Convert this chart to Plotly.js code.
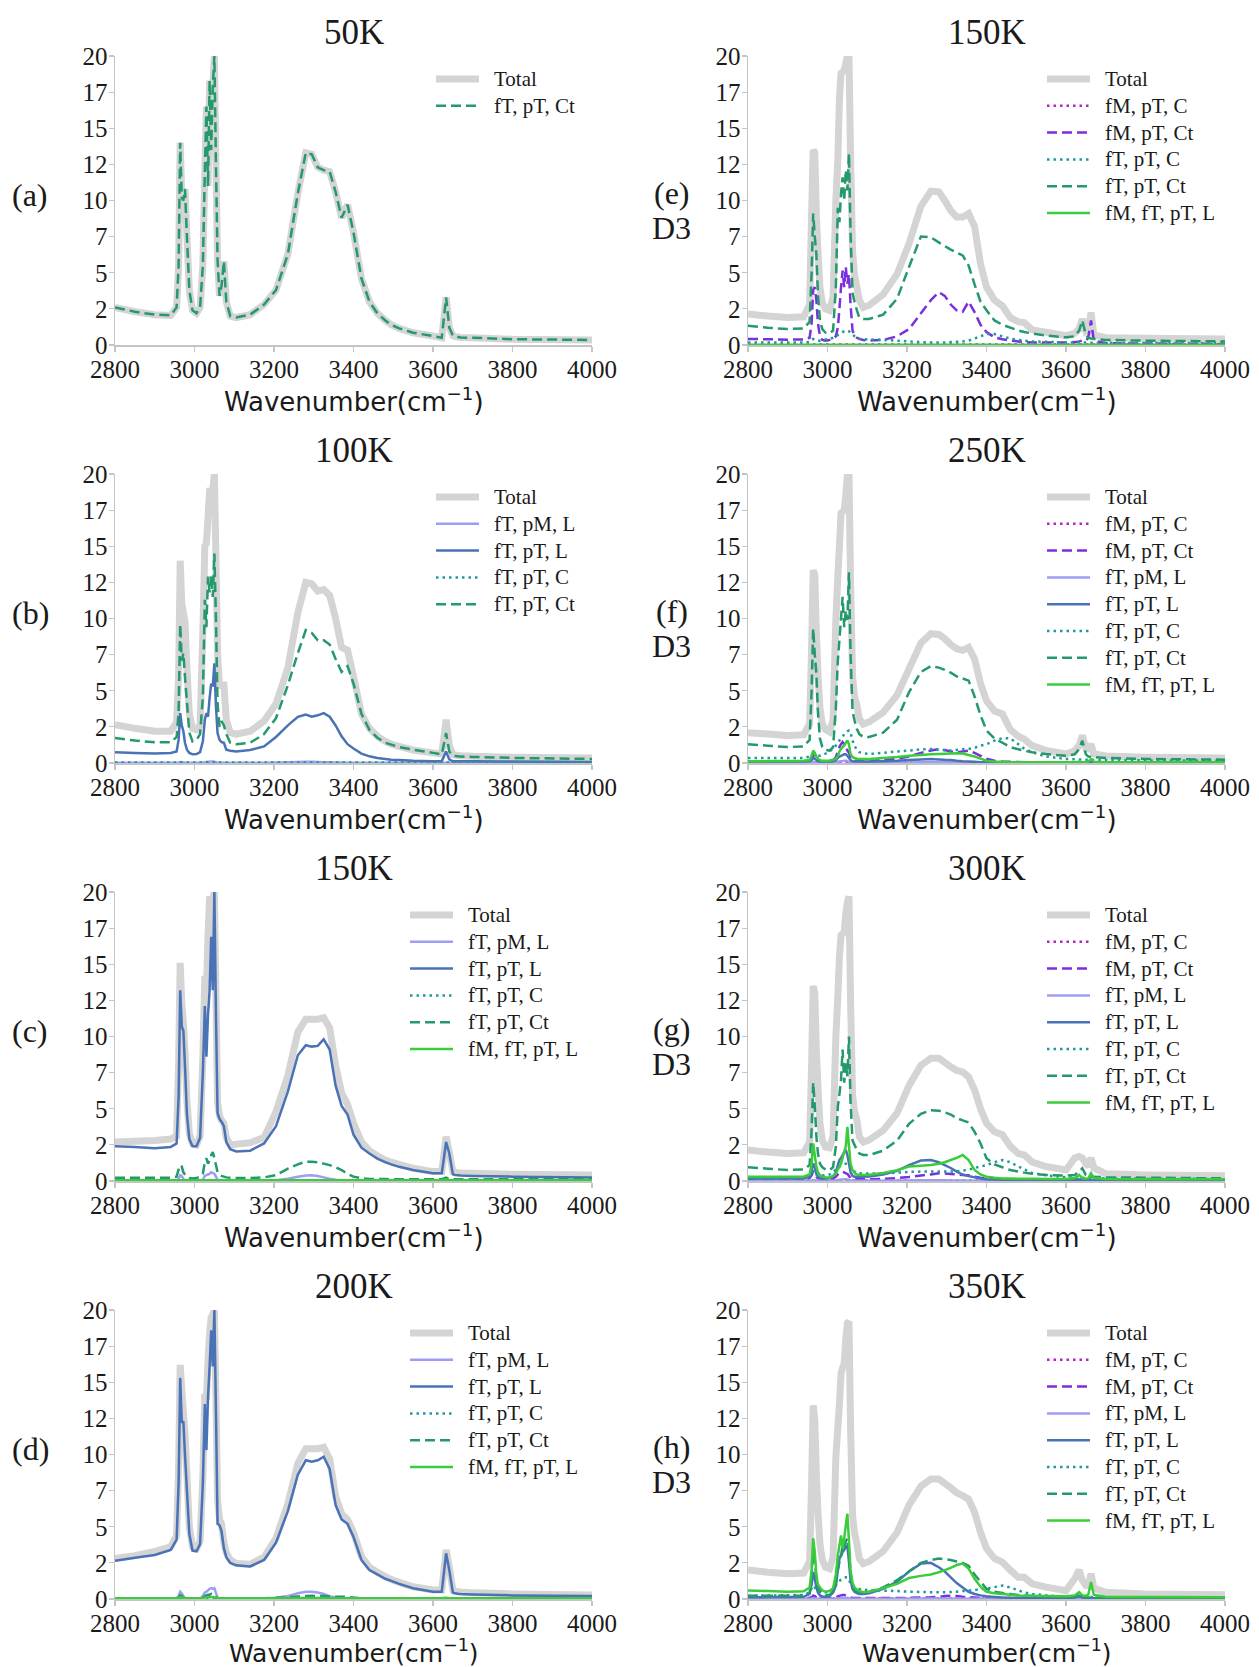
<!DOCTYPE html>
<html>
<head>
<meta charset="utf-8">
<script src="https://cdn.plot.ly/plotly-3.0.1.min.js"></script>
<style>
  html, body { margin: 0; padding: 0; background: #ffffff; }
  #chart { width: 1259px; height: 1667px; }
</style>
</head>
<body>
<div id="chart"></div>
<script>
// Shared wavenumber grid (cm^-1), denser around the C-H and O-H bands
const wavenumber = [
  2800, 2850, 2900, 2940, 2955, 2960, 2964, 2968, 2972, 2976,
  2981, 2987, 2995, 3005, 3014, 3021, 3026, 3030, 3034, 3038,
  3042, 3046, 3050, 3054, 3058, 3063, 3068, 3074, 3080, 3090,
  3105, 3140, 3175, 3205, 3235, 3260, 3280, 3295, 3310, 3325,
  3340, 3355, 3370, 3385, 3400, 3420, 3440, 3460, 3480, 3495,
  3515, 3550, 3600, 3622, 3633, 3641, 3650, 3656, 3663, 3670,
  3700, 3800, 4000
];

const yTickVals = [0, 2.5, 5, 7.5, 10, 12.5, 15, 17.5, 20];
const yTickText = ['0', '2', '5', '7', '10', '12', '15', '17', '20'];
const xTickVals = [2800, 3000, 3200, 3400, 3600, 3800, 4000];

// ---------- (a) 50K ----------
const k50_total = [
  2.6, 2.3, 2.1, 2.05, 2.6, 5.5, 14.0, 10.2, 10.0, 10.8,
  7.5, 3.8, 2.4, 2.2, 2.6, 5.5, 12.0, 16.5, 11.0, 18.3,
  13.5, 17.9, 20.0, 12.4, 5.9, 3.4, 4.1, 5.8, 3.0, 2.0,
  1.9, 2.1, 2.8, 3.8, 6.3, 10.5, 13.3, 13.2, 12.3, 12.1,
  12.0, 10.6, 8.8, 9.7, 7.8, 4.6, 3.0, 2.2, 1.7, 1.4,
  1.15, 0.85, 0.62, 0.5, 3.3, 1.2, 0.65, 0.58, 0.55, 0.52,
  0.5, 0.4, 0.35
];
const k50_fT_pT_Ct = [
  2.6, 2.3, 2.1, 2.05, 2.6, 5.5, 14.0, 10.2, 10.0, 10.8,
  7.5, 3.8, 2.4, 2.2, 2.6, 5.5, 12.0, 16.5, 11.0, 18.3,
  13.5, 17.9, 20.0, 12.4, 5.9, 3.4, 4.1, 5.8, 3.0, 2.0,
  1.9, 2.1, 2.8, 3.8, 6.3, 10.5, 13.3, 13.2, 12.3, 12.1,
  12.0, 10.6, 8.8, 9.7, 7.8, 4.6, 3.0, 2.2, 1.7, 1.4,
  1.15, 0.85, 0.62, 0.5, 3.3, 1.2, 0.65, 0.58, 0.55, 0.52,
  0.5, 0.4, 0.35
];

// ---------- (b) 100K ----------
const k100_total = [
  2.65, 2.4, 2.2, 2.2, 2.8, 6.0, 14.0, 11.0, 10.4, 9.8,
  6.5, 3.4, 2.4, 2.3, 2.6, 9.0, 15.0, 15.2, 17.0, 18.8,
  18.8, 18.9, 20.0, 14.0, 7.5, 5.2, 5.4, 5.4, 3.0, 2.1,
  2.0, 2.2, 2.9, 4.1, 6.6, 10.4, 12.5, 12.4, 11.9, 12.0,
  11.6, 10.0, 8.0, 7.8, 6.0, 3.4, 2.4, 1.85, 1.5, 1.3,
  1.15, 0.9, 0.7, 0.62, 3.0, 1.2, 0.58, 0.55, 0.52, 0.5,
  0.46, 0.4, 0.35
];
const k100_fT_pM_L = [
  0.02, 0.02, 0.02, 0.02, 0.02, 0.04, 0.06, 0.05, 0.04, 0.03,
  0.02, 0.02, 0.02, 0.02, 0.02, 0.04, 0.06, 0.07, 0.08, 0.09,
  0.1, 0.1, 0.09, 0.06, 0.03, 0.02, 0.02, 0.02, 0.02, 0.02,
  0.02, 0.02, 0.02, 0.03, 0.05, 0.07, 0.08, 0.08, 0.07, 0.06,
  0.05, 0.04, 0.03, 0.02, 0.02, 0.02, 0.02, 0.02, 0.02, 0.02,
  0.02, 0.02, 0.02, 0.02, 0.02, 0.02, 0.02, 0.02, 0.02, 0.02,
  0.02, 0.02, 0.02
];
const k100_fT_pT_L = [
  0.74, 0.7, 0.65, 0.7, 0.8, 1.6, 3.45, 2.6, 2.2, 1.4,
  0.92, 0.7, 0.6, 0.62, 0.75, 1.5, 3.0, 3.45, 3.2, 4.5,
  5.5, 5.3, 6.9, 3.9, 2.07, 1.6, 1.45, 1.4, 0.92, 0.85,
  0.8, 0.9, 1.15, 1.8, 2.6, 3.2, 3.35, 3.2, 3.3, 3.45,
  3.2, 2.6, 1.85, 1.3, 1.0, 0.65, 0.46, 0.35, 0.28, 0.23,
  0.2, 0.15, 0.12, 0.12, 0.8, 0.25, 0.12, 0.12, 0.12, 0.12,
  0.12, 0.1, 0.07
];
const k100_fT_pT_C = [
  0.04, 0.04, 0.04, 0.04, 0.04, 0.04, 0.05, 0.05, 0.04, 0.04,
  0.04, 0.04, 0.04, 0.04, 0.04, 0.04, 0.05, 0.05, 0.05, 0.05,
  0.05, 0.05, 0.05, 0.05, 0.04, 0.04, 0.04, 0.04, 0.04, 0.04,
  0.04, 0.04, 0.04, 0.04, 0.04, 0.04, 0.04, 0.04, 0.04, 0.04,
  0.04, 0.04, 0.04, 0.04, 0.04, 0.04, 0.04, 0.04, 0.04, 0.04,
  0.04, 0.04, 0.04, 0.04, 0.04, 0.04, 0.04, 0.04, 0.04, 0.04,
  0.04, 0.04, 0.04
];
const k100_fT_pT_Ct = [
  1.73, 1.55, 1.43, 1.43, 1.8, 3.5, 9.6, 7.1, 7.6, 6.0,
  4.2, 2.1, 1.5, 1.6, 2.0, 4.5, 11.3, 9.4, 12.9, 11.8,
  13.0, 11.5, 14.5, 9.9, 4.1, 2.5, 2.9, 2.6, 2.0, 1.4,
  1.3, 1.4, 2.0, 3.1, 5.4, 7.6, 9.2, 9.0, 8.5, 8.5,
  8.2, 7.2, 6.3, 6.7, 5.5, 3.4, 2.3, 1.75, 1.4, 1.27,
  1.1, 0.92, 0.7, 0.6, 2.07, 0.8, 0.5, 0.48, 0.46, 0.45,
  0.42, 0.35, 0.28
];

// ---------- (c) 150K ----------
const k150_total = [
  2.7, 2.75, 2.8, 2.9, 3.1, 8.15, 15.1, 12.3, 11.0, 9.0,
  5.5, 3.3, 2.6, 2.5, 3.1, 8.5, 14.2, 13.2, 17.0, 19.7,
  19.2, 19.5, 20.0, 12.8, 5.4, 4.5, 4.2, 4.0, 3.0, 2.5,
  2.55, 2.65, 3.0, 4.8, 7.3, 10.3, 11.2, 11.2, 11.2, 11.3,
  10.6, 8.0, 6.1, 5.3, 4.0, 2.7, 2.1, 1.75, 1.45, 1.3,
  1.15, 0.88, 0.65, 0.65, 3.07, 2.0, 0.65, 0.6, 0.57, 0.55,
  0.53, 0.46, 0.42
];
const k150_fT_pM_L = [
  0.02, 0.02, 0.02, 0.02, 0.02, 0.15, 0.4, 0.35, 0.15, 0.05,
  0.02, 0.02, 0.02, 0.02, 0.02, 0.1, 0.35, 0.4, 0.45, 0.5,
  0.6, 0.55, 0.5, 0.3, 0.08, 0.02, 0.02, 0.02, 0.02, 0.02,
  0.02, 0.02, 0.02, 0.05, 0.15, 0.3, 0.38, 0.4, 0.35, 0.25,
  0.15, 0.08, 0.04, 0.02, 0.02, 0.02, 0.02, 0.02, 0.02, 0.02,
  0.02, 0.02, 0.02, 0.02, 0.02, 0.02, 0.02, 0.02, 0.02, 0.02,
  0.02, 0.02, 0.02
];
const k150_fT_pT_L = [
  2.4, 2.35, 2.26, 2.35, 2.6, 5.85, 13.2, 10.7, 10.4, 8.0,
  4.6, 2.9, 2.4, 2.4, 3.0, 7.5, 12.1, 8.6, 11.5, 13.2,
  16.9, 13.2, 20.0, 11.4, 4.7, 4.3, 4.1, 3.8, 2.7, 2.2,
  2.05, 2.1, 2.6, 3.8, 6.2, 8.7, 9.4, 9.3, 9.35, 9.8,
  9.1, 6.6, 5.2, 4.6, 3.2, 2.3, 1.9, 1.55, 1.3, 1.15,
  0.98, 0.76, 0.53, 0.53, 2.7, 1.9, 0.46, 0.42, 0.4, 0.38,
  0.35, 0.3, 0.25
];
const k150_fT_pT_C = [
  0.03, 0.03, 0.03, 0.03, 0.03, 0.03, 0.03, 0.03, 0.03, 0.03,
  0.03, 0.03, 0.03, 0.03, 0.03, 0.03, 0.03, 0.03, 0.03, 0.03,
  0.03, 0.03, 0.03, 0.03, 0.03, 0.03, 0.03, 0.03, 0.03, 0.03,
  0.03, 0.03, 0.03, 0.03, 0.03, 0.03, 0.03, 0.03, 0.03, 0.03,
  0.03, 0.03, 0.03, 0.03, 0.03, 0.03, 0.03, 0.03, 0.03, 0.03,
  0.03, 0.03, 0.03, 0.03, 0.03, 0.03, 0.03, 0.03, 0.03, 0.03,
  0.03, 0.03, 0.03
];
const k150_fT_pT_Ct = [
  0.23, 0.23, 0.23, 0.23, 0.3, 0.8, 1.1, 1.0, 0.6, 0.45,
  0.3, 0.2, 0.18, 0.2, 0.3, 0.5, 1.3, 1.57, 1.2, 1.45,
  1.8, 2.0, 1.6, 1.1, 0.6, 0.42, 0.35, 0.3, 0.25, 0.22,
  0.2, 0.2, 0.25, 0.4, 0.85, 1.15, 1.34, 1.33, 1.3, 1.2,
  1.1, 0.95, 0.76, 0.5, 0.3, 0.2, 0.14, 0.13, 0.13, 0.12,
  0.12, 0.12, 0.12, 0.12, 0.23, 0.15, 0.12, 0.12, 0.12, 0.12,
  0.12, 0.12, 0.12
];
const k150_fM_fT_pT_L = [
  0.05, 0.05, 0.05, 0.05, 0.05, 0.05, 0.06, 0.06, 0.05, 0.05,
  0.05, 0.05, 0.05, 0.05, 0.05, 0.05, 0.06, 0.06, 0.06, 0.06,
  0.06, 0.06, 0.06, 0.06, 0.05, 0.05, 0.05, 0.05, 0.05, 0.05,
  0.05, 0.05, 0.05, 0.05, 0.05, 0.05, 0.05, 0.05, 0.05, 0.05,
  0.05, 0.05, 0.05, 0.05, 0.05, 0.05, 0.05, 0.05, 0.05, 0.05,
  0.05, 0.05, 0.05, 0.05, 0.1, 0.06, 0.05, 0.05, 0.05, 0.05,
  0.05, 0.05, 0.05
];

// ---------- (d) 200K ----------
const k200_total = [
  2.8, 3.0, 3.3, 3.6, 4.4, 9.0, 16.2, 14.5, 13.0, 11.5,
  8.5, 5.0, 3.6, 3.5, 4.0, 8.5, 14.2, 13.8, 16.5, 18.4,
  19.5, 19.7, 20.0, 13.8, 6.85, 5.5, 5.2, 3.9, 3.2, 2.7,
  2.45, 2.4, 2.9, 4.2, 6.6, 9.4, 10.4, 10.4, 10.4, 10.5,
  9.7, 7.1, 5.9, 5.5, 4.6, 2.93, 2.2, 1.85, 1.55, 1.35,
  1.15, 0.85, 0.62, 0.62, 3.4, 2.2, 0.6, 0.55, 0.5, 0.48,
  0.44, 0.35, 0.28
];
const k200_fT_pM_L = [
  0.02, 0.02, 0.02, 0.02, 0.02, 0.2, 0.5, 0.4, 0.2, 0.08,
  0.03, 0.03, 0.03, 0.03, 0.03, 0.2, 0.45, 0.5, 0.6, 0.7,
  0.75, 0.7, 0.75, 0.4, 0.1, 0.03, 0.03, 0.03, 0.03, 0.03,
  0.03, 0.03, 0.03, 0.08, 0.2, 0.4, 0.5, 0.5, 0.45, 0.35,
  0.2, 0.1, 0.06, 0.03, 0.03, 0.03, 0.03, 0.03, 0.03, 0.03,
  0.03, 0.03, 0.03, 0.03, 0.05, 0.03, 0.03, 0.03, 0.03, 0.03,
  0.03, 0.03, 0.03
];
const k200_fT_pT_L = [
  2.65, 2.85, 3.05, 3.4, 4.1, 8.0, 15.3, 12.2, 12.3, 10.0,
  7.5, 4.5, 3.35, 3.3, 3.8, 8.0, 13.5, 10.3, 14.0, 16.1,
  18.6, 16.1, 20.0, 12.85, 5.2, 5.1, 4.7, 3.5, 2.9, 2.5,
  2.33, 2.25, 2.7, 3.9, 6.1, 8.6, 9.6, 9.5, 9.6, 9.85,
  9.0, 6.5, 5.5, 5.2, 4.3, 2.7, 2.0, 1.7, 1.4, 1.25,
  1.05, 0.74, 0.5, 0.5, 3.16, 2.0, 0.44, 0.4, 0.37, 0.35,
  0.32, 0.25, 0.2
];
const k200_fT_pT_C = [
  0.03, 0.03, 0.03, 0.03, 0.03, 0.03, 0.03, 0.03, 0.03, 0.03,
  0.03, 0.03, 0.03, 0.03, 0.03, 0.03, 0.03, 0.03, 0.03, 0.03,
  0.03, 0.03, 0.03, 0.03, 0.03, 0.03, 0.03, 0.03, 0.03, 0.03,
  0.03, 0.03, 0.03, 0.03, 0.03, 0.03, 0.03, 0.03, 0.03, 0.03,
  0.03, 0.03, 0.03, 0.03, 0.03, 0.03, 0.03, 0.03, 0.03, 0.03,
  0.03, 0.03, 0.03, 0.03, 0.03, 0.03, 0.03, 0.03, 0.03, 0.03,
  0.03, 0.03, 0.03
];
const k200_fT_pT_Ct = [
  0.05, 0.05, 0.05, 0.05, 0.05, 0.1, 0.25, 0.2, 0.1, 0.05,
  0.05, 0.05, 0.05, 0.05, 0.05, 0.1, 0.2, 0.25, 0.3, 0.3,
  0.35, 0.3, 0.3, 0.15, 0.05, 0.05, 0.05, 0.05, 0.05, 0.05,
  0.05, 0.05, 0.05, 0.08, 0.12, 0.18, 0.2, 0.22, 0.2, 0.2,
  0.18, 0.15, 0.15, 0.15, 0.1, 0.05, 0.05, 0.05, 0.05, 0.05,
  0.05, 0.05, 0.05, 0.05, 0.05, 0.05, 0.05, 0.05, 0.05, 0.05,
  0.05, 0.05, 0.05
];
const k200_fM_fT_pT_L = [
  0.06, 0.06, 0.06, 0.06, 0.06, 0.08, 0.12, 0.1, 0.08, 0.06,
  0.06, 0.06, 0.06, 0.06, 0.06, 0.08, 0.1, 0.12, 0.12, 0.12,
  0.14, 0.14, 0.12, 0.08, 0.06, 0.06, 0.06, 0.06, 0.06, 0.06,
  0.06, 0.06, 0.06, 0.06, 0.06, 0.07, 0.07, 0.07, 0.07, 0.07,
  0.06, 0.06, 0.06, 0.06, 0.06, 0.06, 0.06, 0.06, 0.06, 0.06,
  0.06, 0.06, 0.06, 0.06, 0.08, 0.06, 0.06, 0.06, 0.06, 0.06,
  0.06, 0.06, 0.06
];

// ---------- (e) 150K, D3 ----------
const d3k150_total = [
  2.15, 2.0, 1.9, 1.95, 2.8, 9.0, 13.5, 13.3, 9.0, 6.5,
  4.0, 2.9, 2.5, 2.4, 3.3, 10.0, 12.8, 17.0, 18.8, 18.9,
  19.0, 19.5, 20.0, 20.0, 13.0, 6.5, 4.8, 4.0, 3.1, 2.6,
  2.75, 3.5, 4.9, 7.0, 9.6, 10.65, 10.6, 10.0, 9.3, 8.85,
  8.85, 9.1, 8.2, 5.6, 4.0, 3.1, 2.7, 1.9, 1.6, 1.55,
  1.05, 0.88, 0.65, 0.8, 1.1, 1.8, 0.95, 1.05, 2.25, 0.7,
  0.5, 0.46, 0.42
];
const d3k150_fM_pT_C = [
  0.03, 0.03, 0.03, 0.03, 0.03, 0.03, 0.03, 0.03, 0.03, 0.03,
  0.03, 0.03, 0.03, 0.03, 0.03, 0.03, 0.03, 0.03, 0.03, 0.03,
  0.03, 0.03, 0.03, 0.03, 0.03, 0.03, 0.03, 0.03, 0.03, 0.03,
  0.03, 0.03, 0.03, 0.03, 0.03, 0.03, 0.03, 0.03, 0.03, 0.03,
  0.03, 0.03, 0.03, 0.03, 0.03, 0.03, 0.03, 0.03, 0.03, 0.03,
  0.03, 0.03, 0.03, 0.03, 0.03, 0.03, 0.03, 0.03, 0.03, 0.03,
  0.03, 0.03, 0.03
];
const d3k150_fM_pT_Ct = [
  0.42, 0.4, 0.37, 0.38, 0.5, 1.5, 3.8, 4.0, 3.1, 1.5,
  0.6, 0.35, 0.3, 0.35, 0.45, 0.6, 1.2, 2.5, 4.0, 5.15,
  4.0, 5.4, 4.25, 4.9, 2.8, 1.0, 0.65, 0.5, 0.42, 0.35,
  0.3, 0.35, 0.6, 1.1, 2.2, 3.1, 3.65, 3.4, 2.8, 2.4,
  2.3, 3.0, 2.27, 1.4, 0.9, 0.53, 0.4, 0.3, 0.25, 0.2,
  0.18, 0.18, 0.18, 0.2, 0.25, 0.3, 0.3, 0.5, 1.7, 0.3,
  0.12, 0.1, 0.07
];
const d3k150_fT_pT_C = [
  0.18, 0.18, 0.18, 0.18, 0.22, 0.35, 0.42, 0.4, 0.35, 0.3,
  0.3, 0.32, 0.38, 0.42, 0.5, 0.6, 0.7, 0.76, 0.85, 0.9,
  0.95, 1.0, 1.0, 0.95, 0.85, 0.76, 0.6, 0.5, 0.42, 0.4,
  0.38, 0.35, 0.3, 0.25, 0.2, 0.18, 0.18, 0.18, 0.2, 0.22,
  0.25, 0.3, 0.45, 0.6, 0.76, 0.76, 0.6, 0.45, 0.35, 0.3,
  0.25, 0.22, 0.18, 0.18, 0.18, 0.17, 0.17, 0.16, 0.16, 0.16,
  0.15, 0.14, 0.12
];
const d3k150_fT_pT_Ct = [
  1.34, 1.2, 1.1, 1.15, 1.6, 5.0, 9.1, 7.5, 6.3, 3.5,
  1.7, 1.1, 0.85, 0.8, 1.0, 4.0, 9.5, 8.5, 10.5, 11.6,
  10.0, 12.1, 10.7, 13.25, 7.7, 3.6, 3.0, 2.4, 1.9, 1.8,
  1.8, 2.1, 3.2, 5.4, 7.5, 7.45, 7.1, 6.85, 6.6, 6.4,
  6.2, 5.5, 4.2, 3.0, 2.4, 1.7, 1.4, 1.2, 1.0, 0.9,
  0.8, 0.65, 0.53, 0.6, 1.0, 1.7, 0.7, 0.5, 0.45, 0.42,
  0.35, 0.3, 0.25
];
const d3k150_fM_fT_pT_L = [
  0.02, 0.02, 0.02, 0.02, 0.02, 0.02, 0.02, 0.02, 0.02, 0.02,
  0.02, 0.02, 0.02, 0.02, 0.02, 0.02, 0.02, 0.02, 0.02, 0.02,
  0.02, 0.02, 0.02, 0.02, 0.02, 0.02, 0.02, 0.02, 0.02, 0.02,
  0.02, 0.02, 0.02, 0.02, 0.02, 0.02, 0.02, 0.02, 0.02, 0.02,
  0.02, 0.02, 0.02, 0.02, 0.02, 0.02, 0.02, 0.02, 0.02, 0.02,
  0.02, 0.02, 0.02, 0.02, 0.02, 0.02, 0.02, 0.02, 0.02, 0.02,
  0.02, 0.02, 0.02
];

// ---------- (f) 250K, D3 ----------
const d3k250_total = [
  2.1, 2.0, 1.9, 1.95, 2.7, 8.0, 13.35, 13.0, 9.0, 6.2,
  3.8, 2.7, 2.3, 2.15, 3.0, 9.9, 12.9, 15.0, 17.3, 17.4,
  17.5, 18.5, 20.0, 20.0, 12.5, 6.0, 4.6, 4.0, 3.05, 2.7,
  2.85, 3.5, 4.7, 6.5, 8.3, 8.95, 8.9, 8.6, 8.2, 7.9,
  7.8, 8.0, 7.2, 5.5, 4.3, 3.6, 3.4, 2.3, 1.85, 1.65,
  1.2, 0.86, 0.62, 0.85, 1.2, 1.9, 1.0, 0.97, 1.3, 0.62,
  0.48, 0.4, 0.35
];
const d3k250_fM_pT_C = [
  0.03, 0.03, 0.03, 0.03, 0.03, 0.03, 0.03, 0.03, 0.03, 0.03,
  0.03, 0.03, 0.03, 0.03, 0.03, 0.03, 0.03, 0.03, 0.03, 0.03,
  0.03, 0.03, 0.03, 0.03, 0.03, 0.03, 0.03, 0.03, 0.03, 0.03,
  0.03, 0.03, 0.03, 0.03, 0.03, 0.03, 0.03, 0.03, 0.03, 0.03,
  0.03, 0.03, 0.03, 0.03, 0.03, 0.03, 0.03, 0.03, 0.03, 0.03,
  0.03, 0.03, 0.03, 0.03, 0.03, 0.03, 0.03, 0.03, 0.03, 0.03,
  0.03, 0.03, 0.03
];
const d3k250_fM_pT_Ct = [
  0.05, 0.05, 0.05, 0.06, 0.1, 0.3, 0.5, 0.45, 0.3, 0.15,
  0.1, 0.08, 0.08, 0.1, 0.15, 0.4, 0.8, 1.1, 1.3, 1.45,
  1.3, 1.1, 0.86, 0.7, 0.4, 0.2, 0.16, 0.14, 0.12, 0.12,
  0.14, 0.2, 0.3, 0.45, 0.7, 0.86, 0.95, 0.9, 0.8, 0.74,
  0.8, 0.86, 0.7, 0.5, 0.3, 0.15, 0.1, 0.08, 0.07, 0.06,
  0.06, 0.05, 0.05, 0.05, 0.05, 0.05, 0.05, 0.08, 0.15, 0.05,
  0.05, 0.05, 0.05
];
const d3k250_fT_pM_L = [
  0.02, 0.02, 0.02, 0.02, 0.02, 0.04, 0.08, 0.06, 0.04, 0.03,
  0.02, 0.02, 0.02, 0.02, 0.02, 0.04, 0.08, 0.1, 0.12, 0.13,
  0.15, 0.15, 0.12, 0.08, 0.04, 0.02, 0.02, 0.02, 0.02, 0.02,
  0.02, 0.02, 0.03, 0.04, 0.05, 0.06, 0.06, 0.06, 0.05, 0.04,
  0.03, 0.02, 0.02, 0.02, 0.02, 0.02, 0.02, 0.02, 0.02, 0.02,
  0.02, 0.02, 0.02, 0.02, 0.02, 0.02, 0.02, 0.02, 0.02, 0.02,
  0.02, 0.02, 0.02
];
const d3k250_fT_pT_L = [
  0.1, 0.1, 0.1, 0.1, 0.12, 0.2, 0.35, 0.3, 0.2, 0.12,
  0.1, 0.1, 0.1, 0.1, 0.12, 0.2, 0.35, 0.45, 0.5, 0.55,
  0.6, 0.6, 0.5, 0.35, 0.2, 0.12, 0.1, 0.1, 0.1, 0.1,
  0.1, 0.12, 0.15, 0.2, 0.25, 0.27, 0.25, 0.22, 0.2, 0.15,
  0.12, 0.1, 0.08, 0.06, 0.06, 0.06, 0.06, 0.06, 0.06, 0.06,
  0.06, 0.06, 0.06, 0.06, 0.06, 0.06, 0.06, 0.06, 0.06, 0.06,
  0.06, 0.06, 0.06
];
const d3k250_fT_pT_C = [
  0.35, 0.35, 0.35, 0.35, 0.45, 0.55, 0.62, 0.6, 0.55, 0.5,
  0.5, 0.55, 0.65, 0.8, 1.0, 1.2, 1.4, 1.55, 1.7, 1.8,
  2.0, 2.1, 2.2, 2.25, 2.1, 1.55, 1.2, 0.9, 0.75, 0.68,
  0.62, 0.7, 0.8, 0.86, 0.95, 0.97, 0.92, 0.88, 0.86, 0.9,
  0.95, 0.97, 1.05, 1.2, 1.3, 1.55, 1.72, 1.7, 1.3, 1.0,
  0.74, 0.45, 0.28, 0.26, 0.25, 0.24, 0.23, 0.22, 0.22, 0.21,
  0.2, 0.18, 0.16
];
const d3k250_fT_pT_Ct = [
  1.3, 1.2, 1.1, 1.15, 1.6, 5.0, 9.3, 7.5, 6.2, 3.5,
  1.7, 1.1, 0.9, 0.86, 1.1, 3.8, 7.1, 8.5, 10.0, 11.5,
  9.4, 10.55, 9.9, 13.2, 7.55, 3.6, 2.95, 2.35, 2.0, 1.8,
  1.8, 2.1, 3.0, 4.9, 6.3, 6.7, 6.6, 6.45, 6.25, 6.0,
  5.85, 5.7, 4.6, 3.3, 2.25, 1.7, 1.4, 1.1, 0.95, 0.85,
  0.74, 0.62, 0.5, 0.6, 0.97, 1.55, 0.6, 0.45, 0.44, 0.4,
  0.35, 0.28, 0.23
];
const d3k250_fM_fT_pT_L = [
  0.12, 0.13, 0.14, 0.15, 0.2, 0.5, 0.86, 0.7, 0.45, 0.3,
  0.2, 0.16, 0.15, 0.18, 0.22, 0.3, 0.5, 0.8, 0.97, 1.1,
  1.2, 1.4, 1.55, 1.3, 0.6, 0.4, 0.35, 0.3, 0.28, 0.27,
  0.28, 0.35, 0.42, 0.5, 0.55, 0.6, 0.62, 0.64, 0.66, 0.67,
  0.65, 0.55, 0.45, 0.3, 0.16, 0.1, 0.08, 0.06, 0.05, 0.05,
  0.05, 0.05, 0.05, 0.05, 0.08, 0.06, 0.05, 0.1, 0.28, 0.08,
  0.05, 0.05, 0.05
];

// ---------- (g) 300K, D3 ----------
const d3k300_total = [
  2.15, 2.0, 1.9, 1.95, 2.7, 8.0, 13.5, 13.0, 9.0, 6.5,
  4.0, 2.8, 2.35, 2.3, 3.1, 10.0, 12.8, 15.5, 17.0, 17.1,
  17.2, 18.5, 19.3, 19.7, 12.5, 6.0, 4.8, 4.2, 3.05, 2.7,
  2.85, 3.5, 4.7, 6.6, 8.0, 8.5, 8.5, 8.2, 7.9, 7.65,
  7.55, 7.2, 6.3, 5.0, 4.0, 3.4, 3.2, 2.4, 1.9, 1.8,
  1.3, 1.0, 0.76, 1.6, 1.7, 1.6, 1.2, 1.0, 1.6, 0.9,
  0.5, 0.42, 0.37
];
const d3k300_fM_pT_C = [
  0.03, 0.03, 0.03, 0.03, 0.03, 0.03, 0.03, 0.03, 0.03, 0.03,
  0.03, 0.03, 0.03, 0.03, 0.03, 0.03, 0.03, 0.03, 0.03, 0.03,
  0.03, 0.03, 0.03, 0.03, 0.03, 0.03, 0.03, 0.03, 0.03, 0.03,
  0.03, 0.03, 0.03, 0.03, 0.03, 0.03, 0.03, 0.03, 0.03, 0.03,
  0.03, 0.03, 0.03, 0.03, 0.03, 0.03, 0.03, 0.03, 0.03, 0.03,
  0.03, 0.03, 0.03, 0.03, 0.03, 0.03, 0.03, 0.03, 0.03, 0.03,
  0.03, 0.03, 0.03
];
const d3k300_fM_pT_Ct = [
  0.12, 0.12, 0.12, 0.12, 0.2, 0.4, 0.65, 0.5, 0.3, 0.18,
  0.15, 0.13, 0.12, 0.13, 0.18, 0.3, 0.45, 0.55, 0.6, 0.65,
  0.6, 0.53, 0.5, 0.35, 0.2, 0.14, 0.13, 0.12, 0.12, 0.12,
  0.12, 0.15, 0.2, 0.28, 0.38, 0.45, 0.53, 0.52, 0.48, 0.45,
  0.42, 0.4, 0.3, 0.22, 0.16, 0.12, 0.1, 0.09, 0.08, 0.08,
  0.08, 0.08, 0.08, 0.08, 0.1, 0.08, 0.08, 0.08, 0.2, 0.08,
  0.08, 0.08, 0.08
];
const d3k300_fT_pM_L = [
  0.02, 0.02, 0.02, 0.02, 0.02, 0.04, 0.07, 0.05, 0.04, 0.03,
  0.02, 0.02, 0.02, 0.02, 0.02, 0.04, 0.07, 0.09, 0.1, 0.11,
  0.12, 0.12, 0.1, 0.07, 0.04, 0.02, 0.02, 0.02, 0.02, 0.02,
  0.02, 0.02, 0.03, 0.04, 0.05, 0.05, 0.05, 0.05, 0.04, 0.04,
  0.03, 0.02, 0.02, 0.02, 0.02, 0.02, 0.02, 0.02, 0.02, 0.02,
  0.02, 0.02, 0.02, 0.02, 0.02, 0.02, 0.02, 0.02, 0.02, 0.02,
  0.02, 0.02, 0.02
];
const d3k300_fT_pT_L = [
  0.18, 0.18, 0.18, 0.18, 0.3, 0.8, 1.22, 0.9, 0.5, 0.3,
  0.22, 0.18, 0.18, 0.2, 0.3, 0.6, 1.1, 1.45, 1.6, 1.8,
  2.0, 2.15, 1.8, 1.22, 0.6, 0.35, 0.3, 0.3, 0.3, 0.3,
  0.32, 0.45, 0.7, 1.1, 1.42, 1.45, 1.3, 1.1, 0.9, 0.65,
  0.45, 0.35, 0.25, 0.18, 0.12, 0.1, 0.09, 0.08, 0.08, 0.07,
  0.07, 0.07, 0.07, 0.07, 0.1, 0.07, 0.07, 0.07, 0.07, 0.07,
  0.07, 0.07, 0.07
];
const d3k300_fT_pT_C = [
  0.18, 0.2, 0.22, 0.23, 0.35, 0.5, 0.65, 0.6, 0.45, 0.38,
  0.35, 0.38, 0.42, 0.45, 0.6, 0.8, 0.95, 1.0, 1.05, 1.1,
  1.15, 1.2, 1.22, 1.15, 1.0, 0.76, 0.65, 0.55, 0.53, 0.52,
  0.52, 0.53, 0.58, 0.63, 0.65, 0.65, 0.65, 0.65, 0.65, 0.68,
  0.72, 0.78, 0.9, 1.0, 1.1, 1.3, 1.45, 1.3, 1.0, 0.8,
  0.55, 0.4, 0.25, 0.24, 0.23, 0.22, 0.21, 0.2, 0.2, 0.2,
  0.18, 0.16, 0.14
];
const d3k300_fT_pT_Ct = [
  0.95, 0.85, 0.76, 0.8, 1.1, 3.5, 6.8, 5.2, 3.1, 1.9,
  1.2, 0.95, 0.8, 0.76, 0.95, 2.4, 5.15, 6.0, 7.0, 9.1,
  6.8, 8.15, 7.25, 10.0, 5.4, 2.8, 2.5, 2.15, 1.9, 1.8,
  1.8, 2.1, 2.8, 3.95, 4.65, 4.9, 4.87, 4.75, 4.6, 4.35,
  4.2, 4.05, 3.4, 2.6, 1.57, 1.15, 0.95, 0.76, 0.65, 0.58,
  0.5, 0.42, 0.37, 0.42, 0.65, 0.88, 0.42, 0.35, 0.3, 0.3,
  0.25, 0.23, 0.18
];
const d3k300_fM_fT_pT_L = [
  0.3, 0.3, 0.3, 0.3, 0.45, 1.2, 2.6, 1.8, 1.0, 0.6,
  0.42, 0.3, 0.25, 0.25, 0.35, 0.5, 0.8, 1.0, 1.2, 1.6,
  2.0, 2.4, 3.75, 2.4, 1.2, 0.76, 0.55, 0.45, 0.42, 0.42,
  0.43, 0.55, 0.75, 1.0, 1.05, 1.1, 1.2, 1.3, 1.45, 1.6,
  1.8, 1.45, 0.76, 0.45, 0.3, 0.22, 0.18, 0.17, 0.16, 0.15,
  0.15, 0.14, 0.14, 0.2, 0.42, 0.2, 0.15, 0.2, 0.53, 0.2,
  0.13, 0.12, 0.12
];

// ---------- (h) 350K, D3 ----------
const d3k350_total = [
  2.0, 1.85, 1.75, 1.8, 2.6, 8.0, 13.4, 12.4, 8.5, 6.0,
  3.8, 2.7, 2.2, 2.1, 2.9, 9.8, 11.9, 13.5, 15.6, 16.0,
  16.3, 18.0, 19.1, 19.2, 12.0, 5.8, 4.6, 3.8, 2.8, 2.45,
  2.6, 3.3, 4.6, 6.5, 7.8, 8.3, 8.3, 8.0, 7.7, 7.35,
  7.15, 6.9, 6.0, 4.6, 3.5, 2.8, 2.55, 2.0, 1.5, 1.5,
  1.05, 0.82, 0.58, 1.4, 2.0, 1.3, 0.93, 0.95, 1.75, 0.75,
  0.47, 0.35, 0.3
];
const d3k350_fM_pT_C = [
  0.03, 0.03, 0.03, 0.03, 0.03, 0.03, 0.03, 0.03, 0.03, 0.03,
  0.03, 0.03, 0.03, 0.03, 0.03, 0.03, 0.03, 0.03, 0.03, 0.03,
  0.03, 0.03, 0.03, 0.03, 0.03, 0.03, 0.03, 0.03, 0.03, 0.03,
  0.03, 0.03, 0.03, 0.03, 0.03, 0.03, 0.03, 0.03, 0.03, 0.03,
  0.03, 0.03, 0.03, 0.03, 0.03, 0.03, 0.03, 0.03, 0.03, 0.03,
  0.03, 0.03, 0.03, 0.03, 0.03, 0.03, 0.03, 0.03, 0.03, 0.03,
  0.03, 0.03, 0.03
];
const d3k350_fM_pT_Ct = [
  0.07, 0.07, 0.07, 0.07, 0.08, 0.12, 0.23, 0.2, 0.1, 0.07,
  0.07, 0.07, 0.07, 0.07, 0.07, 0.1, 0.18, 0.22, 0.25, 0.28,
  0.28, 0.25, 0.2, 0.15, 0.1, 0.07, 0.07, 0.07, 0.07, 0.07,
  0.07, 0.07, 0.07, 0.08, 0.1, 0.12, 0.15, 0.2, 0.23, 0.2,
  0.15, 0.12, 0.1, 0.07, 0.07, 0.07, 0.07, 0.07, 0.06, 0.06,
  0.06, 0.06, 0.05, 0.05, 0.06, 0.05, 0.05, 0.05, 0.08, 0.05,
  0.05, 0.05, 0.05
];
const d3k350_fT_pM_L = [
  0.02, 0.02, 0.02, 0.02, 0.02, 0.03, 0.05, 0.04, 0.03, 0.02,
  0.02, 0.02, 0.02, 0.02, 0.02, 0.03, 0.05, 0.06, 0.07, 0.08,
  0.09, 0.09, 0.08, 0.05, 0.03, 0.02, 0.02, 0.02, 0.02, 0.02,
  0.02, 0.02, 0.02, 0.03, 0.04, 0.04, 0.04, 0.04, 0.03, 0.03,
  0.02, 0.02, 0.02, 0.02, 0.02, 0.02, 0.02, 0.02, 0.02, 0.02,
  0.02, 0.02, 0.02, 0.02, 0.02, 0.02, 0.02, 0.02, 0.02, 0.02,
  0.02, 0.02, 0.02
];
const d3k350_fT_pT_L = [
  0.12, 0.13, 0.14, 0.15, 0.35, 1.0, 1.86, 1.4, 0.8, 0.45,
  0.25, 0.18, 0.16, 0.2, 0.45, 0.93, 2.0, 2.8, 3.0, 3.25,
  3.4, 3.6, 3.7, 2.55, 1.3, 0.7, 0.5, 0.4, 0.35, 0.35,
  0.4, 0.7, 1.2, 1.9, 2.45, 2.5, 2.2, 1.9, 1.5, 1.1,
  0.8, 0.5, 0.35, 0.25, 0.19, 0.14, 0.1, 0.09, 0.08, 0.07,
  0.07, 0.06, 0.06, 0.1, 0.23, 0.1, 0.06, 0.06, 0.06, 0.05,
  0.05, 0.05, 0.05
];
const d3k350_fT_pT_C = [
  0.23, 0.24, 0.26, 0.28, 0.45, 0.75, 0.93, 0.8, 0.6, 0.5,
  0.47, 0.47, 0.47, 0.5, 0.7, 0.95, 1.17, 1.25, 1.35, 1.4,
  1.45, 1.5, 1.5, 1.3, 1.1, 0.93, 0.8, 0.72, 0.7, 0.65,
  0.6, 0.58, 0.55, 0.51, 0.49, 0.47, 0.47, 0.47, 0.48, 0.5,
  0.55, 0.58, 0.62, 0.68, 0.72, 0.82, 0.93, 0.8, 0.6, 0.45,
  0.35, 0.25, 0.16, 0.15, 0.15, 0.14, 0.14, 0.13, 0.13, 0.12,
  0.11, 0.09, 0.07
];
const d3k350_fT_pT_Ct = [
  0.23, 0.23, 0.23, 0.23, 0.4, 1.6, 3.25, 2.6, 1.5, 0.9,
  0.55, 0.35, 0.28, 0.28, 0.5, 1.1, 2.0, 2.55, 3.0, 3.7,
  3.5, 4.0, 4.2, 3.25, 1.8, 0.93, 0.6, 0.5, 0.47, 0.47,
  0.5, 0.8, 1.3, 1.9, 2.5, 2.7, 2.8, 2.75, 2.7, 2.6,
  2.5, 2.3, 1.7, 1.2, 0.7, 0.5, 0.42, 0.35, 0.28, 0.25,
  0.2, 0.15, 0.12, 0.14, 0.47, 0.2, 0.12, 0.1, 0.1, 0.08,
  0.08, 0.07, 0.07
];
const d3k350_fM_fT_pT_L = [
  0.58, 0.55, 0.51, 0.53, 0.8, 2.0, 4.2, 3.25, 1.63, 1.0,
  0.8, 0.6, 0.5, 0.55, 0.75, 1.7, 3.0, 3.7, 4.4, 3.5,
  4.2, 5.1, 5.9, 4.0, 2.0, 1.1, 0.8, 0.65, 0.55, 0.47,
  0.5, 0.75, 1.05, 1.45, 1.6, 1.7, 1.85, 2.0, 2.15, 2.35,
  2.45, 2.1, 1.4, 0.85, 0.5, 0.4, 0.35, 0.3, 0.25, 0.23,
  0.22, 0.2, 0.19, 0.25, 0.47, 0.25, 0.22, 0.3, 1.17, 0.3,
  0.16, 0.14, 0.12
];

// Line style for each contribution
const lineStyles = {
  'Total':          { color: '#d4d4d4', width: 7,   dash: 'solid' },
  'fM, pT, C':      { color: '#b523c4', width: 2.5, dash: '2.5px,4px' },
  'fM, pT, Ct':     { color: '#7b2fe0', width: 2.5, dash: '10px,5px' },
  'fT, pM, L':      { color: '#9d9df5', width: 2.5, dash: 'solid' },
  'fT, pT, L':      { color: '#4a72b6', width: 2.5, dash: 'solid' },
  'fT, pT, C':      { color: '#1f9a9c', width: 2.5, dash: '2.5px,4px' },
  'fT, pT, Ct':     { color: '#23996c', width: 2.5, dash: '10px,5px' },
  'fM, fT, pT, L':  { color: '#3acc3a', width: 2.5, dash: 'solid' }
};

const panels = [
  { tag: '(a)', sub: '', title: '50K', col: 0, row: 0, keyLeft: 436, series: [
    ['Total', k50_total], ['fT, pT, Ct', k50_fT_pT_Ct]] },
  { tag: '(b)', sub: '', title: '100K', col: 0, row: 1, keyLeft: 436, series: [
    ['Total', k100_total], ['fT, pM, L', k100_fT_pM_L], ['fT, pT, L', k100_fT_pT_L],
    ['fT, pT, C', k100_fT_pT_C], ['fT, pT, Ct', k100_fT_pT_Ct]] },
  { tag: '(c)', sub: '', title: '150K', col: 0, row: 2, keyLeft: 410, series: [
    ['Total', k150_total], ['fT, pM, L', k150_fT_pM_L], ['fT, pT, L', k150_fT_pT_L],
    ['fT, pT, C', k150_fT_pT_C], ['fT, pT, Ct', k150_fT_pT_Ct], ['fM, fT, pT, L', k150_fM_fT_pT_L]] },
  { tag: '(d)', sub: '', title: '200K', col: 0, row: 3, keyLeft: 410, series: [
    ['Total', k200_total], ['fT, pM, L', k200_fT_pM_L], ['fT, pT, L', k200_fT_pT_L],
    ['fT, pT, C', k200_fT_pT_C], ['fT, pT, Ct', k200_fT_pT_Ct], ['fM, fT, pT, L', k200_fM_fT_pT_L]] },
  { tag: '(e)', sub: 'D3', title: '150K', col: 1, row: 0, keyLeft: 1047, series: [
    ['Total', d3k150_total], ['fM, pT, C', d3k150_fM_pT_C], ['fM, pT, Ct', d3k150_fM_pT_Ct],
    ['fT, pT, C', d3k150_fT_pT_C], ['fT, pT, Ct', d3k150_fT_pT_Ct], ['fM, fT, pT, L', d3k150_fM_fT_pT_L]] },
  { tag: '(f)', sub: 'D3', title: '250K', col: 1, row: 1, keyLeft: 1047, series: [
    ['Total', d3k250_total], ['fM, pT, C', d3k250_fM_pT_C], ['fM, pT, Ct', d3k250_fM_pT_Ct],
    ['fT, pM, L', d3k250_fT_pM_L], ['fT, pT, L', d3k250_fT_pT_L], ['fT, pT, C', d3k250_fT_pT_C],
    ['fT, pT, Ct', d3k250_fT_pT_Ct], ['fM, fT, pT, L', d3k250_fM_fT_pT_L]] },
  { tag: '(g)', sub: 'D3', title: '300K', col: 1, row: 2, keyLeft: 1047, series: [
    ['Total', d3k300_total], ['fM, pT, C', d3k300_fM_pT_C], ['fM, pT, Ct', d3k300_fM_pT_Ct],
    ['fT, pM, L', d3k300_fT_pM_L], ['fT, pT, L', d3k300_fT_pT_L], ['fT, pT, C', d3k300_fT_pT_C],
    ['fT, pT, Ct', d3k300_fT_pT_Ct], ['fM, fT, pT, L', d3k300_fM_fT_pT_L]] },
  { tag: '(h)', sub: 'D3', title: '350K', col: 1, row: 3, keyLeft: 1047, series: [
    ['Total', d3k350_total], ['fM, pT, C', d3k350_fM_pT_C], ['fM, pT, Ct', d3k350_fM_pT_Ct],
    ['fT, pM, L', d3k350_fT_pM_L], ['fT, pT, L', d3k350_fT_pT_L], ['fT, pT, C', d3k350_fT_pT_C],
    ['fT, pT, Ct', d3k350_fT_pT_Ct], ['fM, fT, pT, L', d3k350_fM_fT_pT_L]] }
];

// Page geometry in pixels
const W = 1259, H = 1667;
const colPx = [[115, 592], [748, 1225]];
const rowPx = [[56, 345], [474, 763], [892, 1181], [1310, 1599]];
const tagX = [30, 672];
const keyFirst = 23;     // first key row below the plot top
const keyStep = 26.8;    // spacing between key rows
const keyLine = 43;      // length of a key sample line
const keyText = 56;      // key label offset from the sample start

const serif = 'Liberation Serif';
const sans = 'DejaVu Sans';
const ink = '#1a1a1a';
const spine = '#c4c4c4';

const px = v => v / W;
const py = v => 1 - v / H;

const traces = [];
const layout = {
  width: W, height: H,
  margin: { l: 0, r: 0, t: 0, b: 0 },
  paper_bgcolor: '#ffffff',
  plot_bgcolor: '#ffffff',
  font: { family: serif, size: 25, color: ink },
  showlegend: false,
  annotations: [],
  shapes: []
};

panels.forEach((p, i) => {
  const n = i + 1;
  const sfx = n === 1 ? '' : String(n);
  const [x0, x1] = colPx[p.col];
  const [y0, y1] = rowPx[p.row];

  p.series.forEach(([name, values], k) => {
    const st = lineStyles[name];
    traces.push({
      type: 'scatter', mode: 'lines',
      x: wavenumber, y: values,
      name: name,
      xaxis: 'x' + sfx, yaxis: 'y' + sfx,
      line: { color: st.color, width: st.width, dash: st.dash, simplify: false },
      hoverinfo: 'skip'
    });

    // key entry: sample line + label
    const ky = y0 + keyFirst + k * keyStep;
    layout.shapes.push({
      type: 'line', xref: 'paper', yref: 'paper',
      x0: px(p.keyLeft), x1: px(p.keyLeft + keyLine), y0: py(ky), y1: py(ky),
      line: { color: st.color, width: st.width, dash: st.dash }
    });
    layout.annotations.push({
      text: name, xref: 'paper', yref: 'paper',
      x: px(p.keyLeft + keyText), y: py(ky), xanchor: 'left', yanchor: 'middle',
      showarrow: false, font: { family: serif, size: 21, color: ink }
    });
  });

  const axisCommon = {
    showgrid: false, zeroline: false,
    showline: true, linecolor: spine, linewidth: 1.5,
    ticks: 'outside', ticklen: 5, tickwidth: 1.2, tickcolor: spine,
    tickfont: { family: serif, size: 25, color: ink }
  };
  layout['xaxis' + sfx] = Object.assign({
    domain: [px(x0), px(x1)], anchor: 'y' + sfx,
    range: [2800, 4000], tickvals: xTickVals,
    ticklabelstandoff: -4
  }, axisCommon);
  layout['yaxis' + sfx] = Object.assign({
    domain: [py(y1), py(y0)], anchor: 'x' + sfx,
    range: [0, 20], tickvals: yTickVals, ticktext: yTickText,
    ticklabelstandoff: -4
  }, axisCommon);

  const cx = px((x0 + x1) / 2);
  layout.annotations.push({
    text: p.title, xref: 'paper', yref: 'paper',
    x: cx, y: py(y0 - 24), xanchor: 'center', yanchor: 'middle',
    showarrow: false, font: { family: serif, size: 35, color: ink }
  });
  const labelGap = p.row === 3 ? 52 : 55;
  layout.annotations.push({
    text: 'Wavenumber(cm<sup>−1</sup>)', xref: 'paper', yref: 'paper',
    x: cx, y: py(y1 + labelGap), xanchor: 'center', yanchor: 'middle',
    showarrow: false, font: { family: sans, size: p.row === 3 ? 25 : 26, color: ink }
  });
  if (p.sub) {
    layout.annotations.push({
      text: p.tag, xref: 'paper', yref: 'paper',
      x: px(tagX[p.col]), y: py(y0 + 137), xanchor: 'center', yanchor: 'middle',
      showarrow: false, font: { family: serif, size: 32, color: ink }
    });
    layout.annotations.push({
      text: p.sub, xref: 'paper', yref: 'paper',
      x: px(tagX[p.col]), y: py(y0 + 172), xanchor: 'center', yanchor: 'middle',
      showarrow: false, font: { family: serif, size: 32, color: ink }
    });
  } else {
    layout.annotations.push({
      text: p.tag, xref: 'paper', yref: 'paper',
      x: px(tagX[p.col]), y: py(y0 + 139), xanchor: 'center', yanchor: 'middle',
      showarrow: false, font: { family: serif, size: 32, color: ink }
    });
  }
});

Plotly.newPlot('chart', traces, layout, { displayModeBar: false, staticPlot: true });
</script>
</body>
</html>
